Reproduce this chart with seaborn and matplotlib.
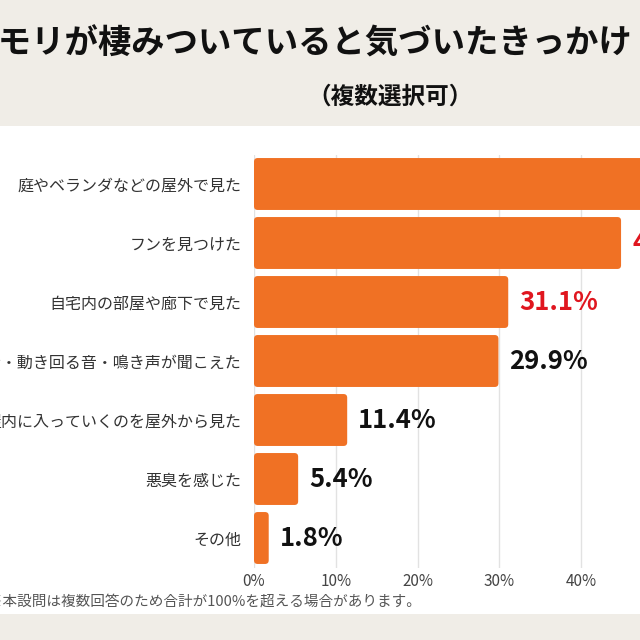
import numpy as np
import pandas as pd
import matplotlib.pyplot as plt
import seaborn as sns
from matplotlib.patches import FancyBboxPatch, Rectangle

categories = [
    '庭やベランダなどの屋外で見た',
    'フンを見つけた',
    '自宅内の部屋や廊下で見た',
    '羽音・動き回る音・鳴き声が聞こえた',
    '屋内に入っていくのを屋外から見た',
    '悪臭を感じた',
    'その他',
]
values = [51.5, 44.9, 31.1, 29.9, 11.4, 5.4, 1.8]
tick_values = [0, 10, 20, 30, 40, 50, 60]
tick_labels = ['0%', '10%', '20%', '30%', '40%', '50%', '60%']

title = 'コウモリが棲みついていると気づいたきっかけ'
subtitle = '（複数選択可）'
note = '※本設問は複数回答のため合計が100%を超える場合があります。'

df = pd.DataFrame({'category': categories, 'value': values})

sns.set_theme(style='white')
plt.rcParams['font.family'] = ['Noto Sans CJK JP', 'DejaVu Sans']

orange = '#F07124'
red = '#E0161F'
beige = '#F0EDE7'

fig = plt.figure(figsize=(6.4, 6.4), dpi=100, facecolor=beige)
# white panel behind the chart
fig.patches.append(Rectangle((0, 26 / 640), 1, 488 / 640, transform=fig.transFigure,
                             facecolor='white', edgecolor='none', zorder=-10))

xmax = 60
px_per_unit = 8.175
ax = fig.add_axes([254 / 640, 72.5 / 640, px_per_unit * xmax / 640, 413 / 640])
ax.set_facecolor('none')

sns.barplot(data=df, x='value', y='category', orient='h', color=orange,
            saturation=1, width=0.88, ax=ax)

ax.set_xlim(0, xmax)
ax.set_ylim(6.5, -0.5)
ax.set_xticks(tick_values)
ax.set_xticklabels(tick_labels)
ax.set_xlabel('')
ax.set_ylabel('')
ax.tick_params(axis='x', length=0, pad=4, labelsize=11, labelcolor='#444444')
ax.tick_params(axis='y', length=0, pad=9, labelsize=11.5, labelcolor='#333333')
ax.grid(axis='x', color='#e2e2e2', lw=1)
ax.set_axisbelow(True)
for s in ax.spines.values():
    s.set_visible(False)

container = ax.containers[0]
texts = ax.bar_label(container, labels=[f'{v:.1f}%' for v in values],
                     padding=8, fontsize=18.5, fontweight='bold', color='#111111')
for i, t in enumerate(texts):
    if i < 3:
        t.set_color(red)

# rounded corners
aspect = px_per_unit / 59
for rect in container:
    fb = FancyBboxPatch((rect.get_x(), rect.get_y()), rect.get_width(), rect.get_height(),
                        boxstyle='round,pad=0,rounding_size=0.45', mutation_aspect=aspect,
                        facecolor=orange, edgecolor='none', zorder=2)
    ax.add_patch(fb)
    rect.set_visible(False)

fig.text(-69 / 640, 1 - 44 / 640, title, ha='left', va='center',
         fontsize=24, fontweight='bold', color='#111111')
fig.text(390 / 640, 1 - 97 / 640, subtitle, ha='center', va='center',
         fontsize=17, fontweight='bold', color='#111111')
fig.text(-12 / 640, 1 - 602 / 640, note, ha='left', va='center',
         fontsize=10.5, color='#555555')

fig.savefig('out.png', dpi=100, facecolor=beige)
